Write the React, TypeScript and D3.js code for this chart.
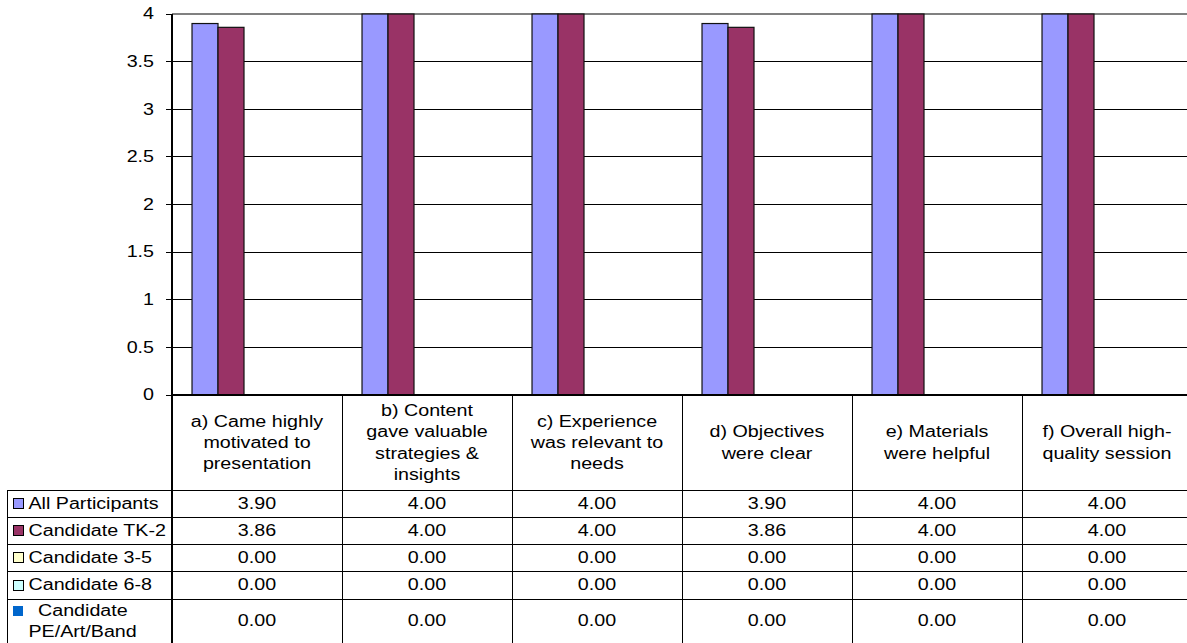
import * as d3 from "d3";

const categories = [
  "a) Came highly motivated to presentation",
  "b) Content gave valuable strategies & insights",
  "c) Experience was relevant to needs",
  "d) Objectives were clear",
  "e) Materials were helpful",
  "f) Overall high-quality session",
];

// header text broken the way the table cells wrap it
const categoryLines = [
  ["a) Came highly", "motivated to", "presentation"],
  ["b) Content", "gave valuable", "strategies &", "insights"],
  ["c) Experience", "was relevant to", "needs"],
  ["d) Objectives", "were clear"],
  ["e) Materials", "were helpful"],
  ["f) Overall high-", "quality session"],
];

const seriesNames = [
  "All Participants",
  "Candidate TK-2",
  "Candidate 3-5",
  "Candidate 6-8",
  "Candidate PE/Art/Band",
];

const allParticipants = [3.9, 4.0, 4.0, 3.9, 4.0, 4.0];
const candidateTK2 = [3.86, 4.0, 4.0, 3.86, 4.0, 4.0];
const candidate35 = [0, 0, 0, 0, 0, 0];
const candidate68 = [0, 0, 0, 0, 0, 0];
const candidatePE = [0, 0, 0, 0, 0, 0];

const seriesValues = [allParticipants, candidateTK2, candidate35, candidate68, candidatePE];
const seriesColors = ["#9999FF", "#993366", "#FFFFCC", "#CCFFFF", "#0066CC"];

const yTicks = [0, 0.5, 1, 1.5, 2, 2.5, 3, 3.5, 4];

const W = 1187;
const H = 643;
const LEFT = 172;
const RIGHT = 1192;
const TOP = 14;
const BASE = 395;
const TABLE_LEFT = 7;
const rowLines = [490, 517, 544, 571, 599, 648];

const FONT = "'Liberation Sans', Arial, sans-serif";
const FS = 16;
const SX = 1.23; // the source text is stretched horizontally

function Txt({
  x,
  y,
  lines,
  anchor = "middle",
  lh = 21.3,
}: {
  x: number;
  y: number;
  lines: string[];
  anchor?: "start" | "middle" | "end";
  lh?: number;
}) {
  const off = -((lines.length - 1) * lh) / 2;
  return (
    <text
      transform={`translate(${x},${y}) scale(${SX},1)`}
      textAnchor={anchor}
      fontFamily={FONT}
      fontSize={FS}
      fill="#000"
    >
      {lines.map((l, i) => (
        <tspan key={i} x={0} y={off + i * lh} dominantBaseline="central">
          {l}
        </tspan>
      ))}
    </text>
  );
}

export default function App() {
  const x0 = d3.scaleBand<string>().domain(categories).range([LEFT, RIGHT]).padding(0);
  const x1 = d3
    .scaleBand<string>()
    .domain(seriesNames)
    .range([0, x0.bandwidth()])
    .paddingInner(0)
    .paddingOuter(0.77);
  const y = d3.scaleLinear().domain([0, 4]).range([BASE, TOP]);
  const bottom = rowLines[rowLines.length - 1];

  return (
    <svg
      width={W}
      height={H}
      style={{ position: "fixed", left: 0, top: 0, background: "#fff" }}
    >
      <rect x={0} y={0} width={W} height={H} fill="#fff" />

      {/* gridlines */}
      <g shapeRendering="crispEdges">
        {yTicks.map((t) => (
          <line
            key={t}
            x1={LEFT}
            x2={RIGHT}
            y1={y(t)}
            y2={y(t)}
            stroke={t === 4 ? "#808080" : "#000"}
            strokeWidth={t === 4 ? 2 : 1}
          />
        ))}
      </g>

      {/* bars */}
      {categories.map((c, ci) => (
        <g key={c} transform={`translate(${x0(c)},0)`}>
          {seriesNames.map((s, si) => {
            const v = seriesValues[si][ci];
            if (v <= 0) return null;
            return (
              <rect
                key={s}
                x={x1(s)}
                y={y(v)}
                width={x1.bandwidth()}
                height={BASE - y(v)}
                fill={seriesColors[si]}
                stroke="#111"
                strokeWidth={1.2}
              />
            );
          })}
        </g>
      ))}

      {/* y axis */}
      <g shapeRendering="crispEdges">
        <line x1={LEFT} x2={LEFT} y1={TOP} y2={bottom} stroke="#000" strokeWidth={2} />
        {yTicks.map((t) => (
          <line key={t} x1={LEFT - 6} x2={LEFT} y1={y(t)} y2={y(t)} stroke="#000" strokeWidth={1} />
        ))}
        <line x1={LEFT} x2={RIGHT} y1={BASE} y2={BASE} stroke="#000" strokeWidth={2} />
      </g>
      {yTicks.map((t) => (
        <Txt key={t} x={154} y={y(t)} lines={[String(t)]} anchor="end" />
      ))}

      {/* data table */}
      <g shapeRendering="crispEdges">
        {categories.map((c) => (
          <line
            key={c}
            x1={(x0(c) ?? 0) + x0.bandwidth()}
            x2={(x0(c) ?? 0) + x0.bandwidth()}
            y1={BASE}
            y2={bottom}
            stroke="#000"
            strokeWidth={1}
          />
        ))}
        <line x1={TABLE_LEFT} x2={TABLE_LEFT} y1={rowLines[0]} y2={bottom} stroke="#000" strokeWidth={1} />
        {rowLines.map((r) => (
          <line key={r} x1={TABLE_LEFT} x2={RIGHT} y1={r} y2={r} stroke="#000" strokeWidth={1} />
        ))}
      </g>

      {/* header cells */}
      {categories.map((c, ci) => (
        <Txt
          key={c}
          x={(x0(c) ?? 0) + x0.bandwidth() / 2}
          y={(BASE + rowLines[0]) / 2}
          lines={categoryLines[ci]}
        />
      ))}

      {/* rows */}
      {seriesNames.map((s, si) => {
        const top = rowLines[si];
        const bot = rowLines[si + 1];
        const mid = si === 4 ? (top + 643) / 2 : (top + bot) / 2;
        const keyY = si === 4 ? mid - 10.5 : mid;
        return (
          <g key={s}>
            <rect
              x={13}
              y={keyY - 5}
              width={10}
              height={10}
              fill={seriesColors[si]}
              stroke={si === 4 ? "none" : "#000"}
              strokeWidth={1}
              shapeRendering="crispEdges"
            />
            {si === 4 ? (
              <>
                <Txt x={38} y={mid - 10.5} lines={["Candidate"]} anchor="start" />
                <Txt x={28.5} y={mid + 10.5} lines={["PE/Art/Band"]} anchor="start" />
              </>
            ) : (
              <Txt x={28.5} y={mid} lines={[s]} anchor="start" />
            )}
            {categories.map((c, ci) => (
              <Txt
                key={c}
                x={(x0(c) ?? 0) + x0.bandwidth() / 2}
                y={mid}
                lines={[seriesValues[si][ci].toFixed(2)]}
              />
            ))}
          </g>
        );
      })}
    </svg>
  );
}
